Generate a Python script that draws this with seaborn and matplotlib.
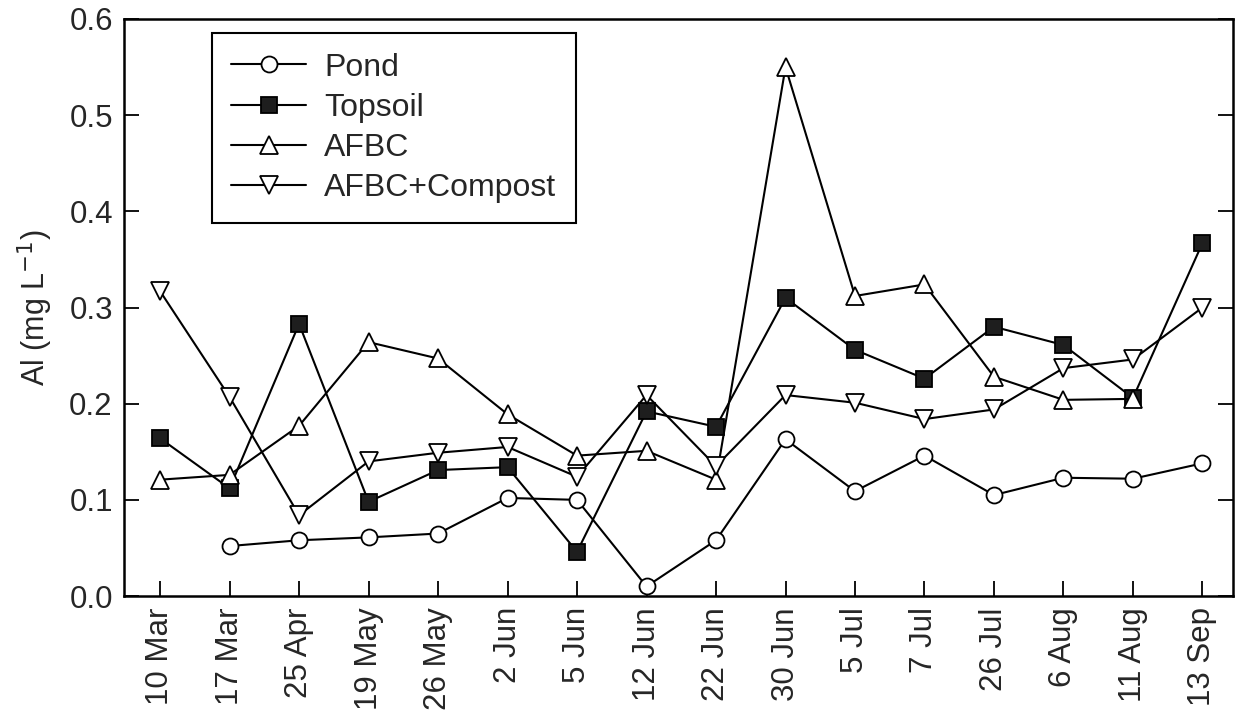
import numpy as np
import pandas as pd
import matplotlib
matplotlib.use("Agg")
import matplotlib.pyplot as plt
import seaborn as sns

dates = ["10 Mar", "17 Mar", "25 Apr", "19 May", "26 May", "2 Jun", "5 Jun", "12 Jun",
         "22 Jun", "30 Jun", "5 Jul", "7 Jul", "26 Jul", "6 Aug", "11 Aug", "13 Sep"]
pond = [np.nan, 0.052, 0.058, 0.061, 0.065, 0.102, 0.100, 0.010,
        0.058, 0.163, 0.109, 0.146, 0.105, 0.123, 0.122, 0.138]
topsoil = [0.164, 0.112, 0.283, 0.098, 0.131, 0.134, 0.046, 0.192,
           0.176, 0.310, 0.256, 0.226, 0.280, 0.261, 0.206, 0.367]
afbc = [0.121, 0.126, 0.177, 0.264, 0.247, 0.189, 0.146, 0.151,
        0.121, 0.550, 0.312, 0.324, 0.228, 0.204, 0.205, np.nan]
afbc_compost = [0.317, 0.207, 0.084, 0.140, 0.149, 0.155, 0.124, 0.209,
                0.135, 0.209, 0.201, 0.184, 0.194, 0.237, 0.246, 0.300]
yticks = [0.0, 0.1, 0.2, 0.3, 0.4, 0.5, 0.6]

sns.set_theme(style="ticks")
plt.rcParams['font.family'] = ['Liberation Sans', 'DejaVu Sans']

fig = plt.figure(figsize=(12.37, 7.19), dpi=100)
ax = fig.add_axes([0.1002, 0.171, 0.8966, 0.8026])

pos = np.arange(len(dates))
series = [
    ("Pond", pond, dict(marker="o", markersize=11.5, markerfacecolor="white")),
    ("Topsoil", topsoil, dict(marker="s", markersize=11.5, markerfacecolor="#1e1e1e")),
    ("AFBC", afbc, dict(marker="^", markersize=12.5, markerfacecolor="white")),
    ("AFBC+Compost", afbc_compost, dict(marker="v", markersize=12.5, markerfacecolor="white")),
]
for name, vals, style in series:
    df = pd.DataFrame({"x": pos, "y": vals}).dropna()
    sns.lineplot(data=df, x="x", y="y", ax=ax, color="black", linewidth=1.5,
                 markeredgecolor="black", markeredgewidth=1.3, label=name, **style)

ax.set_xlim(-0.52, 15.44)
ax.set_ylim(0, 0.6)
ax.set_xticks(pos)
ax.set_xticklabels(dates, rotation=90)
ax.set_yticks(yticks)
ax.set_yticklabels([f"{v:.1f}" for v in yticks])
ax.set_xlabel("")
ax.set_ylabel("Al (mg L$^{-1}$)", fontsize=22, labelpad=10)

ax.tick_params(axis="both", direction="in", length=10.5, width=1.3, labelsize=22.5, color="black")
ax.tick_params(axis="x", pad=8)
ax.tick_params(axis="y", pad=8, right=True)
for sp in ax.spines.values():
    sp.set_linewidth(1.8)
    sp.set_color("black")
    sp.set_visible(True)

leg = ax.legend(loc="upper left", bbox_to_anchor=(0.079, 0.976), borderaxespad=0,
                fontsize=23, frameon=True, fancybox=False, edgecolor="black",
                handlelength=2.35, handletextpad=0.55, labelspacing=0.32,
                borderpad=0.62)
leg.get_frame().set_linewidth(1.5)
leg.get_frame().set_alpha(1)

fig.savefig("out.png", dpi=100)
